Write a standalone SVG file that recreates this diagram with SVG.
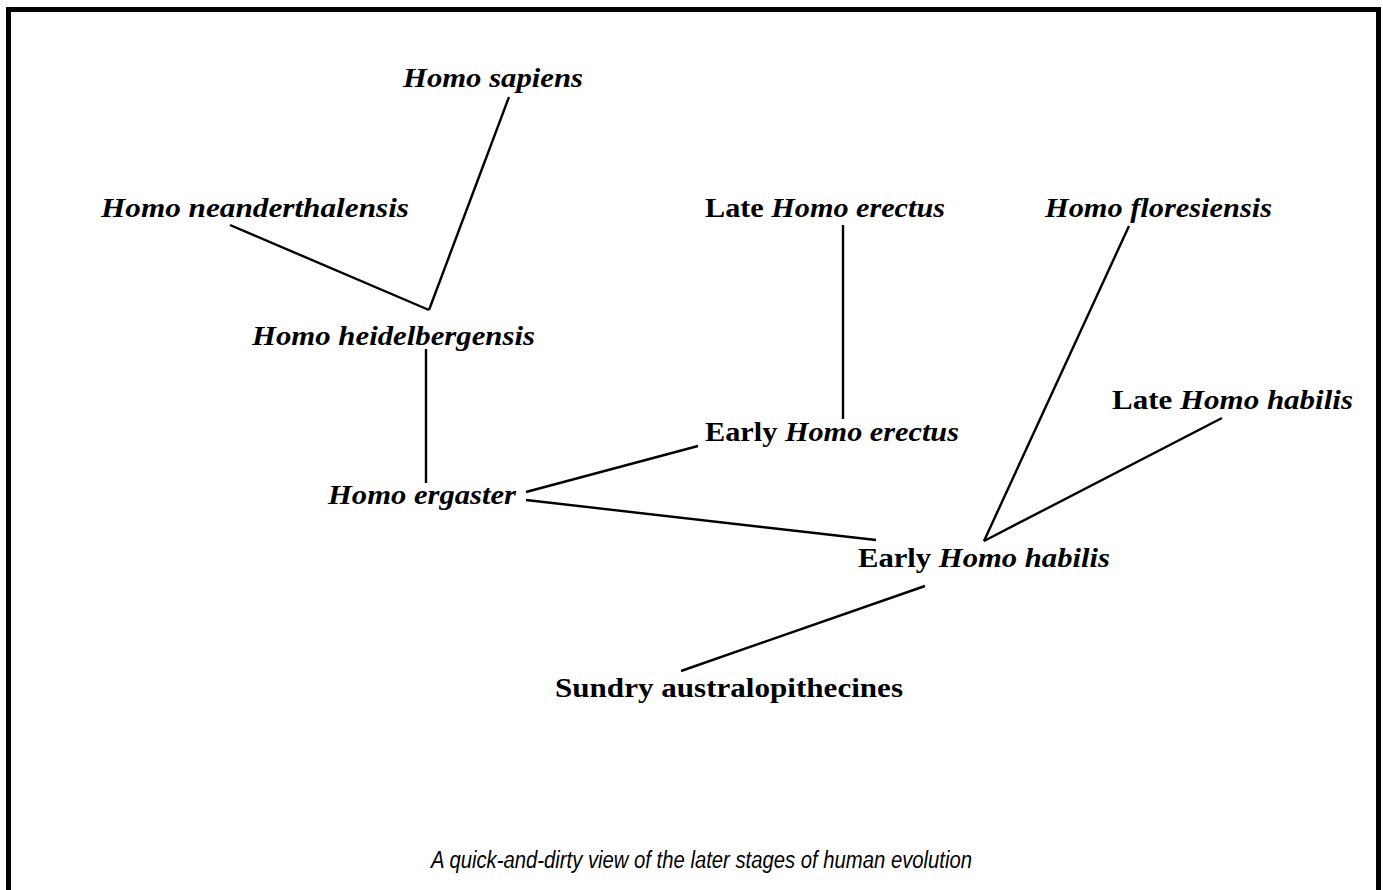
<svg xmlns="http://www.w3.org/2000/svg" width="1383" height="890" viewBox="0 0 1383 890">
<style>
.lbl{font-family:"Liberation Serif","Times New Roman",serif;font-weight:bold;font-size:28px;fill:#000}
.it{font-style:italic}
.cap{font-family:"Liberation Sans Narrow","Liberation Sans",Arial,sans-serif;font-style:italic;font-size:23px;fill:#000}
.edge{stroke:#000;stroke-width:2.4;fill:none;stroke-linecap:butt}
</style>
<rect x="0" y="0" width="1383" height="890" fill="#fff"/>
<rect id="frame" x="8.5" y="9.5" width="1370" height="900" fill="none" stroke="#000" stroke-width="5"/>
<g id="connectors">
<line class="edge" x1="509" y1="97" x2="429" y2="310"/>
<line class="edge" x1="230" y1="225" x2="429" y2="310"/>
<line class="edge" x1="426" y1="349" x2="426" y2="483"/>
<line class="edge" x1="843" y1="225" x2="843" y2="419"/>
<line class="edge" x1="526" y1="492" x2="698" y2="446"/>
<line class="edge" x1="526" y1="500" x2="876" y2="540"/>
<line class="edge" x1="1129" y1="226" x2="984" y2="541"/>
<line class="edge" x1="1222" y1="418" x2="984" y2="541"/>
<line class="edge" x1="925" y1="586" x2="681" y2="671"/>
</g>
<g id="n-sapiens"><text class="lbl it" x="403" y="87" textLength="180" lengthAdjust="spacingAndGlyphs">Homo sapiens</text></g>
<g id="n-neanderthalensis"><text class="lbl it" x="101" y="217" textLength="308" lengthAdjust="spacingAndGlyphs">Homo neanderthalensis</text></g>
<g id="n-late-erectus"><text class="lbl" x="705" y="217" textLength="240" lengthAdjust="spacingAndGlyphs">Late <tspan class="it">Homo erectus</tspan></text></g>
<g id="n-floresiensis"><text class="lbl it" x="1045" y="217" textLength="227" lengthAdjust="spacingAndGlyphs">Homo floresiensis</text></g>
<g id="n-heidelbergensis"><text class="lbl it" x="252" y="345" textLength="283" lengthAdjust="spacingAndGlyphs">Homo heidelbergensis</text></g>
<g id="n-late-habilis"><text class="lbl" x="1112" y="409" textLength="241" lengthAdjust="spacingAndGlyphs">Late <tspan class="it">Homo habilis</tspan></text></g>
<g id="n-early-erectus"><text class="lbl" x="705" y="441" textLength="254" lengthAdjust="spacingAndGlyphs">Early <tspan class="it">Homo erectus</tspan></text></g>
<g id="n-ergaster"><text class="lbl it" x="328" y="504" textLength="188" lengthAdjust="spacingAndGlyphs">Homo ergaster</text></g>
<g id="n-early-habilis"><text class="lbl" x="858" y="567" textLength="252" lengthAdjust="spacingAndGlyphs">Early <tspan class="it">Homo habilis</tspan></text></g>
<g id="n-australopithecines"><text class="lbl" x="555" y="697" textLength="348" lengthAdjust="spacingAndGlyphs">Sundry australopithecines</text></g>
<text class="cap" x="431" y="868" textLength="541" lengthAdjust="spacingAndGlyphs">A quick-and-dirty view of the later stages of human evolution</text>
</svg>
